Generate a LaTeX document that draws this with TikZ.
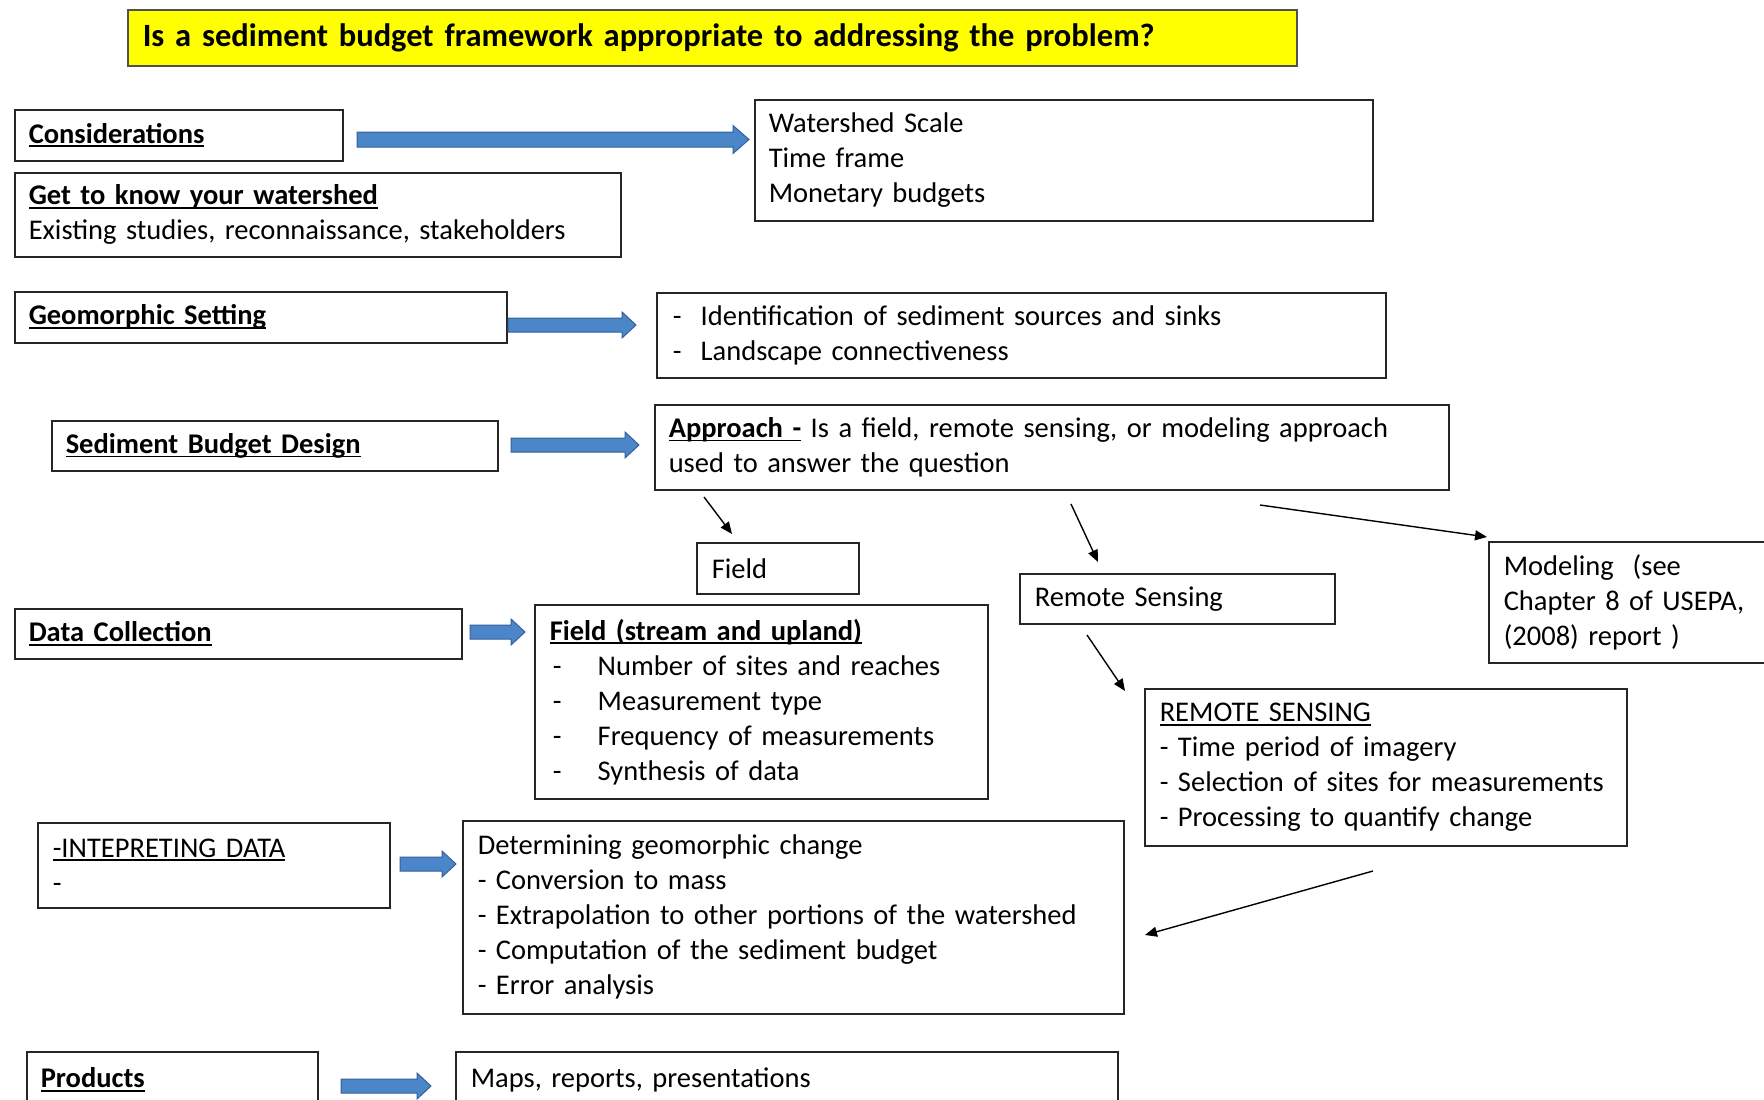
\documentclass[tikz,border=0pt]{standalone}
\usepackage{fontspec}
\setmainfont{Carlito}
\usetikzlibrary{arrows.meta,calc}
\definecolor{boxc}{HTML}{262626}
\definecolor{ablue}{RGB}{74,134,200}
\definecolor{adark}{RGB}{52,96,156}
\definecolor{ttl}{HTML}{FFFF00}
\newsavebox\ulbox
\newcommand\myul[1]{\sbox\ulbox{#1}\leavevmode\rlap{\rule[-4pt]{\wd\ulbox}{1.8pt}}\usebox\ulbox}
\newcommand\bodyfont{\fontsize{28.5}{35}\selectfont}
\newcommand\hd[1]{\myul{\textbf{#1}}}
\newcommand\dsh[1]{\makebox[#1][l]{-}}
\newcommand\bx[8][]{\node[box,#1, inner xsep=#7pt, text width=#5pt, minimum height=#6pt] (#2) at (#3,#4) {#8};}
\newcommand\barrow[5]{\filldraw[fill=ablue, draw=adark, line width=1pt, line join=miter]
  let \p1=(#1), \p2=(#2) in (\x1,\y1+#3) -- (\x2-#5,\y1+#3) -- (\x2-#5,\y1+#4) -- (\x2,\y1)
  -- (\x2-#5,\y1-#4) -- (\x2-#5,\y1-#3) -- (\x1,\y1-#3) -- cycle;}
\begin{document}
\begin{tikzpicture}[x=1pt,y=-1pt,
  box/.style={draw=boxc, line width=1.5pt, fill=white, anchor=north west, align=left,
    inner ysep=0pt, font=\bodyfont},
  thinarrow/.style={draw=black, line width=1.4pt, -{Triangle[length=12pt,width=10pt]}}]
\useasboundingbox (0,0) rectangle (1764,1100);
\clip (0,0) rectangle (1764,1100);
\fill[white] (0,0) rectangle (1764,1100);

% boxes
\bx[fill=ttl, draw=boxc!80, font={\fontsize{32.5}{38}\selectfont\bfseries}]{title}{127}{9}{1139}{56}{15}{Is a sediment budget framework appropriate to addressing the problem?}
\bx{cons}{14}{109}{300}{51}{14}{\hd{Considerations}}
\bx{ws}{754}{99}{590}{121}{14}{Watershed Scale\\Time frame\\Monetary budgets}
\bx{know}{14}{172}{578}{84}{14}{\hd{Get to know your watershed}\\Existing studies, reconnaissance, stakeholders}
\bx{geo}{14}{291}{464}{51}{14}{\hd{Geomorphic Setting}}
\bx{ident}{656}{292}{697}{85}{16}{\dsh{28pt}Identification of sediment sources and sinks\\\dsh{28pt}Landscape connectiveness}
\bx{sbd}{51}{420}{418}{50}{14}{\hd{Sediment Budget Design}}
\bx{appr}{654}{404}{766}{85}{14}{\hd{Approach -} Is a field, remote sensing, or modeling approach\\used to answer the question}
\bx{field}{696}{542}{132}{51}{15}{Field}
\bx{rs}{1019}{573}{285}{50}{15}{Remote Sensing}
\bx{model}{1488}{541}{270}{121}{15}{Modeling\ \ (see\\Chapter 8 of USEPA,\\(2008) report )}
\bx{dc}{14}{608}{419}{50}{14}{\hd{Data Collection}}
\bx{fsu}{534}{604}{423}{194}{15}{\hd{Field (stream and upland)}\\\hspace*{3pt}\dsh{45pt}Number of sites and reaches\\\hspace*{3pt}\dsh{45pt}Measurement type\\\hspace*{3pt}\dsh{45pt}Frequency of measurements\\\hspace*{3pt}\dsh{45pt}Synthesis of data}
\bx{remsens}{1144}{688}{452}{157}{15}{\myul{REMOTE SENSING}\\- Time period of imagery\\- Selection of sites for measurements\\- Processing to quantify change}
\bx{interp}{37}{822}{322}{85}{15}{\myul{-INTEPRETING DATA}\\-}
\bx{det}{462}{820}{631}{193}{15}{Determining geomorphic change\\- Conversion to mass\\- Extrapolation to other portions of the watershed\\- Computation of the sediment budget\\- Error analysis}
\bx{prod}{26}{1051}{263}{56}{14}{\hd{Products}}
\bx{maps}{455}{1051}{632}{56}{15}{Maps, reports, presentations}

% block arrow end points
\coordinate (b1s) at (357,139.5);  \coordinate (b1e) at (749,139.5);
\coordinate (b2s) at (508,325);    \coordinate (b2e) at (636,325);
\coordinate (b3s) at (511,445);    \coordinate (b3e) at (639,445);
\coordinate (b4s) at (470,632);    \coordinate (b4e) at (525,632);
\coordinate (b5s) at (400,864);    \coordinate (b5e) at (456,864);
\coordinate (b6s) at (341,1086);   \coordinate (b6e) at (431,1086);
\barrow{b1s}{b1e}{7.5pt}{14pt}{16pt}
\barrow{b2s}{b2e}{7pt}{13pt}{14pt}
\barrow{b3s}{b3e}{7pt}{13pt}{14pt}
\barrow{b4s}{b4e}{7pt}{13pt}{14pt}
\barrow{b5s}{b5e}{7pt}{13pt}{14pt}
\barrow{b6s}{b6e}{7pt}{13pt}{14pt}

% thin arrows
\coordinate (t1s) at (704,497);   \coordinate (t1e) at (732,534);
\coordinate (t2s) at (1071,504);  \coordinate (t2e) at (1098,562);
\coordinate (t3s) at (1260,505);  \coordinate (t3e) at (1487,537);
\coordinate (t4s) at (1087,635);  \coordinate (t4e) at (1125,691);
\coordinate (t5s) at (1373,871);  \coordinate (t5e) at (1145,935);
\draw[thinarrow] (t1s) -- (t1e);
\draw[thinarrow] (t2s) -- (t2e);
\draw[thinarrow] (t3s) -- (t3e);
\draw[thinarrow] (t4s) -- (t4e);
\draw[thinarrow] (t5s) -- (t5e);
\end{tikzpicture}
\end{document}
